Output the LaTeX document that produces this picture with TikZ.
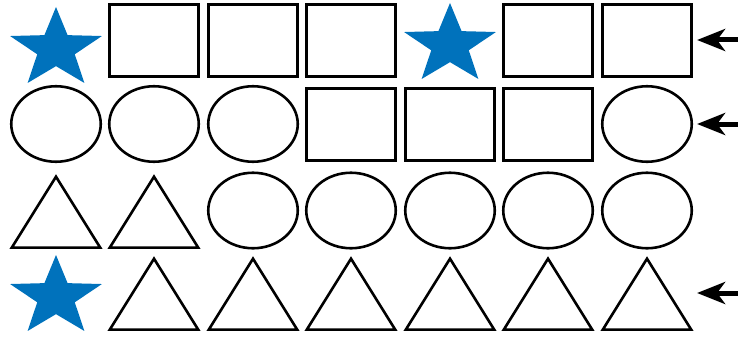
\documentclass[tikz,border=0pt]{standalone}
\usetikzlibrary{shapes.geometric,arrows.meta}
\definecolor{starblue}{RGB}{0,114,188}
\tikzset{
  sq/.style={draw, line width=2.6pt, inner sep=0pt, minimum width=89.5pt, minimum height=72.5pt},
  ell/.style={draw, ellipse, line width=2.6pt, inner sep=0pt, minimum width=89.5pt, minimum height=75.5pt},
  tri/.style={draw, isosceles triangle, isosceles triangle stretches, shape border rotate=90,
    line width=2.6pt, inner sep=0pt, minimum width=88.5pt, minimum height=71pt, anchor=south},
  bluestar/.style={star, star points=5, star point ratio=2.45, fill=starblue, inner sep=0pt,
    minimum size=84pt, xscale=1.15},
  pointer/.style={-{Stealth[length=28pt, width=22pt, inset=8pt]}, line width=5pt, shorten >=4pt}
}
\begin{document}
\begin{tikzpicture}[x=1pt, y=-1pt]
  \useasboundingbox (0,0) rectangle (738,337);

  % Zeile 1
  \node[bluestar] (s11) at (56,49) {};
  \node[sq] (s12) at (154,40.5) {};
  \node[sq] (s13) at (253,40.5) {};
  \node[sq] (s14) at (351,40.5) {};
  \node[bluestar] (s15) at (450,45) {};
  \node[sq] (s16) at (548,40.5) {};
  \node[sq] (s17) at (647,40.5) {};

  % Zeile 2
  \node[ell] (s21) at (56,124) {};
  \node[ell] (s22) at (154,124) {};
  \node[ell] (s23) at (253,124) {};
  \node[sq] (s24) at (351,124.5) {};
  \node[sq] (s25) at (450,124.5) {};
  \node[sq] (s26) at (548,124.5) {};
  \node[ell] (s27) at (647,124) {};

  % Zeile 3
  \node[tri] (s31) at (56,249) {};
  \node[tri] (s32) at (154,249) {};
  \foreach \i/\x in {3/253, 4/351, 5/450, 6/548, 7/647}
    \node[ell] (s3\i) at (\x,210.5) {};

  % Zeile 4
  \node[bluestar] (s41) at (56,297) {};
  \foreach \i/\x in {2/154, 3/253, 4/351, 5/450, 6/548, 7/647}
    \node[tri] (s4\i) at (\x,331) {};

  % Pfeile
  \coordinate (p1) at (738,40);
  \coordinate (p2) at (738,124);
  \coordinate (p4) at (738,293);
  \draw[pointer] (p1) -- (p1 -| s17.east);
  \draw[pointer] (p2) -- (p2 -| s17.east);
  \draw[pointer] (p4) -- (p4 -| s17.east);
\end{tikzpicture}
\end{document}
